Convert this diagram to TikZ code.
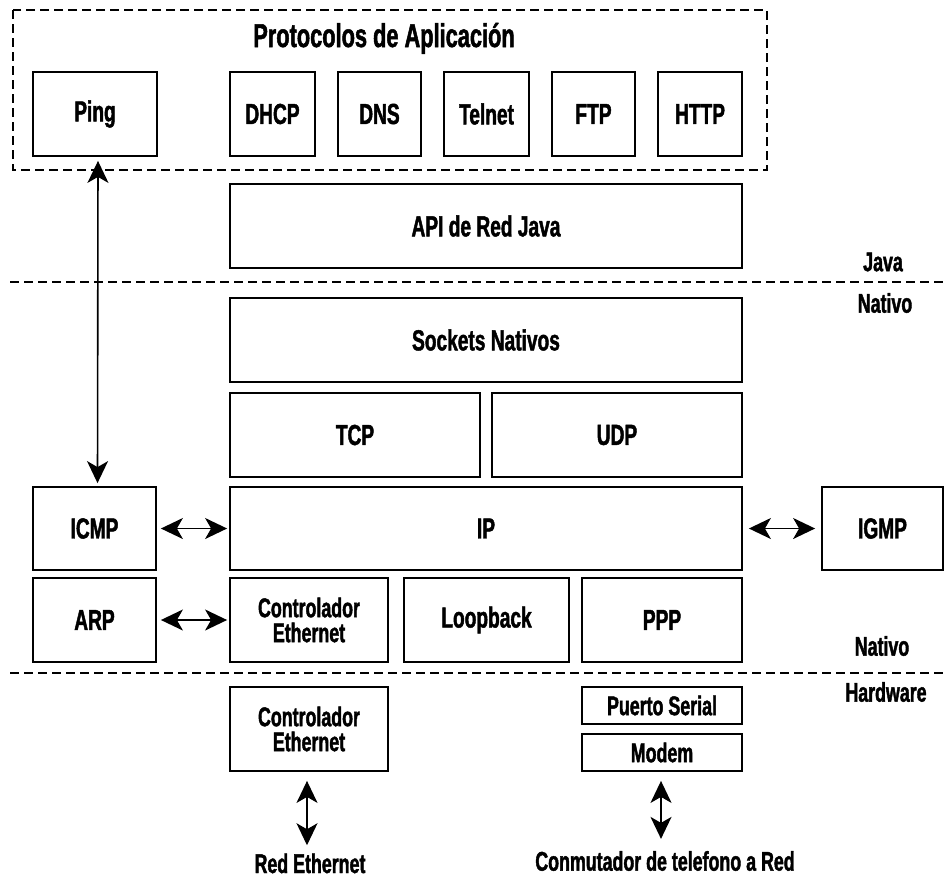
\documentclass[tikz,border=0pt]{standalone}
\usepackage{fontspec}
\setmainfont{Liberation Sans}[FakeStretch=0.66, FakeBold=1.5]
\usetikzlibrary{arrows.meta}
\begin{document}
\begin{tikzpicture}[x=1pt,y=-1pt,
  every node/.style={font=\bfseries\fontsize{29}{29}\selectfont, inner sep=0pt},
  layer/.style={draw, line width=1.8pt, minimum height=84pt, align=center},
  twoline/.style={font=\bfseries\fontsize{27}{25}\selectfont},
  tag/.style={font=\bfseries\fontsize{27}{27}\selectfont},
  divider/.style={line width=1.5pt, dash pattern=on 9pt off 5pt},
  link/.style={line width=1.6pt, {Stealth[length=22pt,width=21pt,inset=6pt]}-{Stealth[length=22pt,width=21pt,inset=6pt]}}
]
\useasboundingbox[fill=white] (0,0) rectangle (947,879);

% application protocol group
\draw[divider] (13,10) rectangle (767,170);
\node[anchor=base, font=\bfseries\fontsize{33}{33}\selectfont] (apptitle) at (384,47) {Protocolos de Aplicación};
\node[layer, minimum width=124pt] (ping)   at (95,114)    {Ping};
\node[layer, minimum width=85pt]  (dhcp)   at (272.5,114) {DHCP};
\node[layer, minimum width=83pt]  (dns)    at (379.5,114) {DNS};
\node[layer, minimum width=85pt]  (telnet) at (486.5,114) {Telnet};
\node[layer, minimum width=83pt]  (ftp)    at (593.5,114) {FTP};
\node[layer, minimum width=84pt]  (http)   at (700,114)   {HTTP};

% Java layer
\node[layer, minimum width=512pt] (api) at (486,226) {API de Red Java};

% Java / native boundary
\coordinate (d1l) at (10,282);
\coordinate (d1r) at (947,282);
\draw[divider] (d1l) -- (d1r);
\node[tag] (java)    at (883,262) {Java};
\node[tag] (nativo1) at (885,303) {Nativo};

% native stack
\node[layer, minimum width=512pt] (sockets) at (486,340) {Sockets Nativos};
\node[layer, minimum width=250pt] (tcp)  at (355,435) {TCP};
\node[layer, minimum width=250pt] (udp)  at (617,435) {UDP};
\node[layer, minimum width=512pt, minimum height=83pt] (ip)   at (486,528.5) {IP};
\node[layer, minimum width=123pt, minimum height=83pt] (icmp) at (94.5,528.5) {ICMP};
\node[layer, minimum width=121pt, minimum height=83pt] (igmp) at (882.5,528.5) {IGMP};
\node[layer, minimum width=123pt] (arp)  at (94.5,620) {ARP};
\node[layer, minimum width=158pt, twoline] (eth) at (309,620) {Controlador\\Ethernet};
\node[layer, minimum width=165pt] (loop) at (486.5,620) {Loopback};
\node[layer, minimum width=160pt] (ppp)  at (662,620) {PPP};
\node[tag] (nativo2) at (882,646) {Nativo};

% native / hardware boundary
\coordinate (d2l) at (10,673);
\coordinate (d2r) at (947,673);
\draw[divider] (d2l) -- (d2r);
\node[tag] (hw) at (886,692) {Hardware};

% hardware
\node[layer, minimum width=158pt, twoline] (ethhw) at (309,729) {Controlador\\Ethernet};
\node[layer, minimum width=160pt, minimum height=37pt, tag] (serial) at (662,705.5) {Puerto Serial};
\node[layer, minimum width=160pt, minimum height=37pt, tag] (modem)  at (662,752.5) {Modem};
\node[tag, anchor=base] (reth) at (310,873) {Red Ethernet};
\node[tag] (phone) at (665,861) {Conmutador de telefono a Red};

% connectors
\draw[link, shorten <=3pt, shorten >=4pt] ([xshift=3pt]icmp.north) -- ([xshift=3pt]ping.south);
\draw[link, shorten <=4pt, shorten >=2pt] (icmp) -- (ip);
\draw[link, shorten <=6pt, shorten >=6pt] (ip) -- (igmp);
\draw[link, shorten <=4pt, shorten >=2pt] (arp) -- (eth);
\draw[link, shorten <=9pt, shorten >=8pt] ([xshift=-2pt]ethhw.south) -- ([xshift=-3pt]reth.north);
\draw[link, shorten <=9pt, shorten >=12pt] ([xshift=-1pt]modem.south) -- ([xshift=-4pt]phone.north);
\end{tikzpicture}
\end{document}
